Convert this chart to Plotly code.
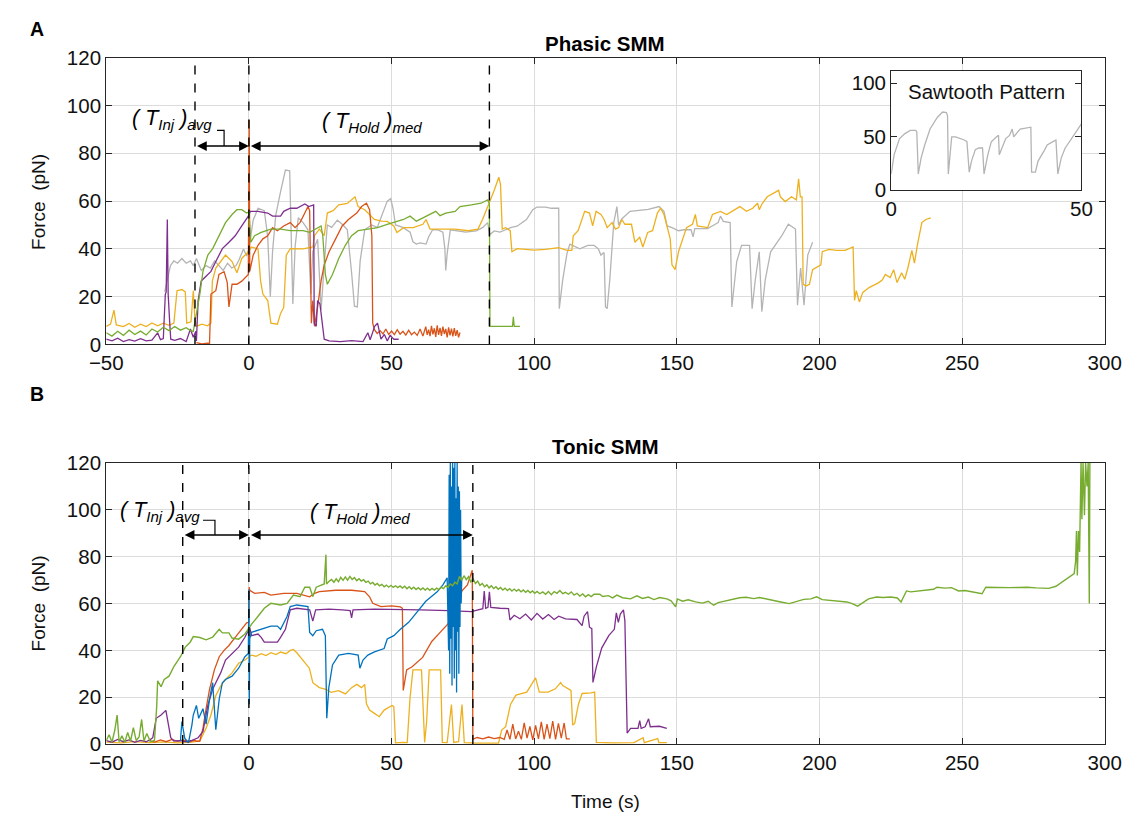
import plotly.graph_objects as go

# ---------------- DATA (time s, force pN) ----------------
top_gray = [(-29.5, 22), (-28.5, 27), (-27.5, 33), (-26.3, 35), (-25, 34), (-23.5, 36), (-22, 34), (-20.5, 35),
            (-19.5, 33), (-18.4, 36), (-17.5, 33), (-16.7, 31), (-15, 33), (-13.5, 32), (-12, 35), (-10.5, 33),
            (-9, 31), (-7.5, 34), (-6, 32), (-4.5, 33), (-3.6, 35), (-1.9, 40), (-0.8, 37), (0, 40), (1.5, 52),
            (3.2, 57), (5.4, 56), (6.6, 45), (7.5, 20), (8.3, 39), (9.4, 54), (11.1, 64), (12.8, 73), (14.3, 72.7),
            (14.9, 48), (15.4, 17), (16.2, 41), (17.3, 53), (19, 51), (20.7, 48), (21.7, 21), (22.4, 39), (24.1, 44),
            (25.3, 14.5), (26.5, 35), (27.5, 50), (29, 49), (31, 52), (33, 50), (34.5, 48), (36, 30), (37, 16),
            (38, 15.7), (39, 35), (40.6, 48), (43, 50), (45, 49), (47, 55), (48.5, 60), (49.7, 61), (50.5, 57),
            (51.4, 50), (54, 49), (56.5, 47), (57.5, 43), (58.7, 42), (60, 42.5), (62.1, 42), (63, 45), (64.4, 48),
            (66, 48), (68, 47), (68.7, 40), (69, 31), (69.5, 38), (70.6, 48), (73, 47.5), (76, 47), (79.7, 47.5),
            (82, 49), (83.7, 51), (84.5, 46), (86, 47.5), (88, 47), (90, 48), (92, 49), (94, 49.5), (96, 51),
            (97.3, 52.3), (99.5, 56.4), (101, 57.5), (104, 57.5), (106, 57), (108.6, 57), (108.8, 15), (110, 27),
            (111.5, 38), (112.5, 42), (114.3, 40.8), (116, 40), (118.8, 41.5), (121, 41.5), (122.5, 40),
            (123.4, 37.4), (124.5, 38.5), (125, 15.7), (125.6, 15), (126.5, 27), (127.9, 51), (129, 57.7),
            (129.6, 50), (130.7, 52.5), (133.6, 55.7), (137, 56), (140, 56.5), (143.8, 57.7), (145.5, 55.7),
            (146.6, 49.6), (148.3, 48.9), (150.6, 47.6), (152.5, 48), (155, 48), (155.7, 45), (156.3, 48.5),
            (160.8, 48.5), (163, 50), (164.5, 51), (165.3, 53.7), (166.3, 51.5), (168.7, 51), (169.3, 15.7),
            (171, 34.7), (172.7, 41.5), (175.5, 41.5), (176.4, 15), (177.5, 27), (178.9, 38.8), (179.8, 13.7),
            (181, 27), (182.9, 38.8), (185.1, 42.8), (186.8, 45.5), (189.1, 50.3), (190.8, 48.9), (191.6, 48.3),
            (192.3, 16.4), (193.4, 32), (194.6, 16.4), (195.9, 37.4), (197.6, 42.8)]

top_yellow = [(-50, 7.6), (-48.5, 8.5), (-47.3, 14.4), (-46.5, 8.2), (-44, 7.5), (-42, 8.8), (-40, 7.2), (-38, 8.5),
              (-36, 7.5), (-34, 9), (-32, 7.8), (-30, 8.9), (-28, 8), (-26.8, 8.5), (-26.3, 9), (-25.2, 22.5),
              (-23.5, 23), (-22.3, 22), (-21.8, 8.9), (-20.3, 9.5), (-19.5, 22.5), (-19, 12), (-18.4, 7.6),
              (-16.5, 8.5), (-14.5, 7.8), (-13.3, 9), (-12.8, 26.6), (-11.6, 32), (-9.8, 35), (-8.2, 37.4),
              (-5.9, 34.7), (-4.2, 30), (-2.5, 36), (-0.2, 38.8), (0.9, 40.8), (3.2, 40), (4.1, 26.6), (4.9, 21.1),
              (6.6, 18.4), (7.7, 8.9), (10, 8.5), (11.1, 13), (12.2, 15.5), (13.1, 37.4), (14.5, 40.1), (19, 40),
              (22.4, 40.8), (23, 45.5), (24.7, 48.3), (26.4, 45.5), (27.5, 55), (29.5, 56), (31.5, 58.4),
              (34.5, 59), (37.2, 61.8), (38.3, 57.7), (40.6, 56.4), (44, 52.3), (46.5, 51.6), (48.5, 51.5),
              (50.8, 49.6), (51.9, 46.9), (54.2, 48.9), (57.6, 48.9), (61, 50.3), (62.1, 52.3), (63.5, 48.3),
              (65.5, 48.3), (72.3, 48.3), (76.9, 47.6), (80.3, 48.3), (81.9, 52.3), (83.1, 55.7), (84.2, 59.1),
              (86, 64.5), (87.6, 70), (88.2, 67), (88.8, 48.3), (90, 48.9), (91.6, 47.6), (92.2, 38.8), (94, 40.1),
              (100, 39.5), (104, 39.8), (107.5, 40.1), (108.6, 40.5), (111.5, 39.4), (113.2, 39.4), (113.7, 45.5),
              (115.4, 47.6), (117.7, 55.7), (119.4, 55), (120.5, 49.6), (121.7, 55.7), (123.4, 54.4),
              (124.5, 52.3), (125.6, 48.9), (127.3, 51), (128.5, 48.3), (129.6, 48.9), (130.7, 52.3),
              (131.8, 50.3), (134.1, 50.3), (135.3, 42.8), (137, 44.9), (138.1, 40.8), (139.8, 46.9),
              (141.5, 47.6), (143.2, 55), (144.3, 57), (145.5, 54.4), (146.6, 49.6), (147.7, 44.2), (148.3, 33.3),
              (149.4, 31.3), (150.6, 38.8), (152.3, 45.5), (153.4, 48.9), (155.5, 50.3), (156.5, 54.4),
              (157.2, 49.6), (160.8, 48.9), (162.5, 54.4), (165.3, 55.7), (167.5, 54.4), (171, 57), (172.1, 57.7),
              (174.4, 55.7), (176.6, 57), (178.3, 59.1), (178.9, 56.4), (180, 59.1), (181.7, 61.8), (185.7, 64.5),
              (186.3, 61.8), (188, 59.8), (190.2, 61.8), (191.9, 60.5), (192.7, 69.3), (193.3, 61.8),
              (193.9, 61.8), (194.3, 25.2), (195.3, 24.5), (196.5, 25.2), (197.6, 31.3), (200.5, 33.3),
              (201, 38.8), (203.3, 39.8), (206.1, 39.4), (209, 39.4), (211.8, 40.8), (212.3, 18.4), (212.9, 22.5),
              (214, 17.8), (215.2, 21.8), (217.4, 23.8), (220.8, 25.9), (222, 27), (223.1, 29.3), (224.8, 28),
              (226, 31.3), (227.2, 25.9), (228.8, 30), (229.9, 27.3), (231, 32), (232.4, 39.4), (233.3, 34),
              (234.4, 42.1), (235.9, 51), (237.3, 52.3), (239, 53)]

top_green = [(-50, 4.9), (-48, 3.5), (-46, 5.5), (-44, 3.8), (-42, 6), (-40, 4.2), (-38, 5.6), (-36, 4), (-34, 6.5),
             (-32, 5.2), (-30, 7.2), (-28, 5.8), (-26, 7.5), (-24, 6), (-22, 7), (-20.5, 5.8), (-19.5, 5.5),
             (-18.4, 13), (-17.2, 21.1), (-16.1, 30.6), (-14.4, 37.4), (-12.7, 40.1), (-10.4, 45.5), (-8.2, 51),
             (-5.9, 54.4), (-4.2, 56.4), (-2.5, 56.4), (-0.8, 55), (0, 55.5), (0.2, 51), (0.7, 42.8), (2, 45.5),
             (4.3, 46.9), (7.7, 48.3), (11.1, 48.3), (14.5, 47.6), (19, 47.6), (21.3, 46.9), (24.1, 48.9),
             (25.3, 49.6), (25.9, 45.5), (26.8, 29.3), (27.5, 25.2), (29.3, 29.3), (31.5, 36), (33.8, 41.5),
             (36, 45.5), (38.3, 47.6), (41.7, 48.3), (45.1, 48.9), (48.5, 50.3), (51.9, 51.6), (54.2, 52.3),
             (56.5, 53.7), (58.7, 51.6), (61, 53), (63.3, 54.4), (65.5, 55.7), (67, 53.9), (69, 55), (72.3, 55.7),
             (74, 57.7), (78, 58.4), (81.4, 59.1), (83.7, 60.5), (84.3, 59), (84.5, 7.6), (86, 7.6), (90, 7.4),
             (92.4, 7.6), (92.7, 11.6), (93, 7.6), (95, 7.6)]

top_purple = [(-50, 2.2), (-48, 1.5), (-46, 2.6), (-44, 1.2), (-42, 2), (-40, 1.4), (-38, 2.4), (-36, 1.5),
              (-34, 1.8), (-32, 4.9), (-31, 2), (-30, 2.5), (-29.3, 21), (-29, 22), (-28.6, 52.3), (-28.3, 21),
              (-27.8, 10), (-27.4, 2.2), (-26, 1.7), (-24, 2.5), (-22, 1.2), (-20.5, 6.5), (-19.5, 3),
              (-18.6, 5.5), (-18.4, 1.5), (-17.8, 18.4), (-16.7, 26.6), (-15, 28.6), (-13.3, 30.6), (-11.6, 34.7),
              (-9.3, 40.1), (-7, 42.8), (-4.8, 45.5), (-2.5, 49.6), (-0.2, 53.7), (0.5, 55.7), (3.2, 55.7),
              (6.6, 55), (8.3, 53.7), (11.1, 53.7), (12.2, 55.7), (14.5, 57), (16.8, 57), (19.6, 58.8), (21, 57.7),
              (22.7, 58.4), (22.9, 8.9), (23.6, 7.6), (24.1, 18.4), (24.9, 17), (25.6, 8.9), (26.4, 2.2),
              (28.1, 1.5), (32, 1.2), (36, 1.6), (40, 1.2), (41.7, 4.9), (42.5, 2), (43.5, 5.5), (44, 7.5),
              (45.1, 8.9), (46.3, 2.2), (47.5, 4.2), (48.5, 1.5), (49.5, 3.8), (50.8, 2.2), (52.5, 2.2)]

top_orange = [(-18.4, 0.8), (-16.5, 0.3), (-14.5, 0.6), (-13.8, 0.5), (-13.3, 21.1), (-11.6, 22.5), (-10.5, 29.3),
              (-8.7, 30.5), (-7.6, 26), (-7, 15.7), (-5.9, 25.2), (-4.2, 25.2), (-2.5, 26.5), (-1.4, 27.9),
              (-0.2, 29.3), (0.1, 94), (0.3, 30.6), (1.5, 37.4), (3.2, 41.5), (4.9, 44.2), (6.6, 45.5), (8.3, 48.9),
              (10, 47.6), (12.2, 49.6), (14.5, 51), (16.2, 48.9), (17.9, 51), (19.6, 55), (20.7, 57.7), (21.3, 56),
              (21.9, 8.9), (22.4, 18.4), (23, 7.6), (24.1, 15.7), (25.3, 26.6), (26.4, 33.3), (28.1, 38.8),
              (30.4, 44.2), (32.7, 49.6), (34.9, 52.3), (37.8, 55), (39.5, 57.7), (41.2, 59.1), (42.3, 56.4),
              (43.1, 45.5), (43.4, 8.9), (44, 6.2), (45, 4.6), (46, 5.8), (47, 4.4), (48, 6.5), (49, 4.2), (50, 5.6),
              (51, 4.1), (52, 6.2), (53, 4.3), (54, 5.5), (55, 3.9), (56, 6), (57, 4.1), (58, 5.2), (59, 3.8),
              (60, 6.5), (61, 3.5), (62, 7.5), (62.5, 4), (63, 6.2), (63.5, 3.5), (64, 7.8), (64.5, 4.2), (65, 6.8),
              (65.5, 3.2), (66, 8), (66.5, 4), (67, 7), (67.5, 3.6), (68, 7.5), (68.5, 4.4), (69, 6.5), (69.5, 3),
              (70, 7.2), (70.5, 3.8), (71, 6.6), (71.5, 3.4), (72, 6.8), (72.5, 3.6), (73, 6), (73.5, 3), (74, 5)]

inset_gray = [(0, 15), (0.76, 33), (2.18, 48), (3.6, 52.7), (5.0, 55.7), (6.44, 55.7), (6.72, 54.2), (7.1, 15),
              (7.86, 30), (8.8, 42), (10.2, 57), (12.1, 67.8), (13.5, 72.9), (14.5, 72.3), (14.8, 69.3), (15.0, 15),
              (15.9, 49.7), (16.9, 49.7), (19.2, 46.7), (19.9, 45.2), (20.5, 16.6), (21.1, 27), (22.1, 37.7),
              (23.0, 39.2), (24.0, 39.2), (24.4, 15), (25.4, 33), (26.3, 45), (27.7, 49.7), (28.2, 51.2),
              (28.4, 33), (29.4, 42), (30.1, 48), (31.1, 51), (31.8, 57), (32.2, 49.7), (33.9, 57), (36.7, 58.7),
              (36.9, 16.6), (37.9, 16.6), (38.6, 27), (40.1, 36), (41.0, 42), (42.4, 45), (43.3, 46.7),
              (43.8, 15), (44.7, 30), (45.7, 39), (47.2, 46.7), (48.6, 54), (50, 61.7)]

bot_green = [(-50, 1.5), (-49, 4), (-48, 0.8), (-47, 6), (-46.2, 12.4), (-45.5, 1), (-44.5, 3.5), (-43.5, 0.8),
             (-42.5, 5), (-41.5, 1.2), (-40.5, 7), (-39.5, 1.5), (-38.5, 3), (-37.6, 10.5), (-36.8, 1.2),
             (-35.8, 4.5), (-34.5, 1), (-33.1, 1.5), (-32.3, 16.5), (-32, 27), (-30.8, 24.5), (-29.7, 27.6),
             (-28, 29), (-26.3, 33.1), (-24, 37.3), (-22.3, 41.4), (-20.6, 43.5), (-19.5, 45.9), (-17.2, 45.5),
             (-15, 44.5), (-12.7, 45.7), (-10.4, 49), (-9.3, 47.5), (-7, 47.5), (-5.9, 45.3), (-3.6, 44.8),
             (-1.4, 47), (0.9, 51.1), (3.2, 54.6), (5.4, 58), (7.7, 60.1), (11.1, 59.4), (13.4, 60.1), (15.6, 63.6),
             (17.9, 62.9), (19.6, 67), (21.3, 67), (22.4, 63), (23.6, 67), (26.4, 68.4), (27, 80.9), (27.2, 68.4),
             (28.2, 69.6), (29, 70.3), (29.8, 69.1), (30.6, 70.6), (31.4, 69.3), (32.2, 71.2), (33, 69.9),
             (33.8, 71.4), (34.6, 70), (35.4, 71.6), (36.2, 70.3), (37, 71.1), (37.8, 69.8), (38.6, 70.6),
             (39.4, 69.6), (40.2, 70.2), (41, 69.1), (41.8, 69.6), (42.6, 68.4), (43.4, 69), (44.2, 67.9),
             (45, 68.6), (45.8, 67.6), (46.6, 68.2), (47.4, 67.2), (48.2, 67.9), (49, 67), (49.8, 67.8),
             (50.6, 66.9), (51.4, 67.6), (52.2, 66.8), (53, 67.5), (53.8, 66.6), (54.6, 67.4), (55.4, 66.3),
             (56.2, 67.2), (57, 66.2), (57.8, 67), (58.6, 66), (59.4, 66.8), (60.2, 65.9), (61, 66.7),
             (61.8, 65.8), (62.6, 66.6), (63.4, 65.7), (64.2, 66.5), (65, 65.8), (65.8, 66.6), (66.6, 66),
             (67.4, 67), (68.2, 66.4), (69, 67.6), (69.8, 67), (70.6, 68.4), (71.4, 67.6), (72.2, 69.1), (73, 68.4),
             (73.8, 71.6), (74.6, 69.9), (75.4, 71.9), (76.2, 70.2), (77, 71.5), (77.8, 69.3), (78.6, 70.6),
             (79.4, 68.6), (80.2, 69.6), (81, 67.8), (81.8, 68.6), (82.6, 67.2), (83.4, 68), (84.2, 66.7), (85, 67.6),
             (85.8, 66.4), (86.6, 67.2), (87.4, 66.1), (88.2, 66.9), (89, 65.8), (89.8, 66.6), (90.6, 65.6),
             (91.4, 66.4), (92.2, 65.4), (93, 66.2), (93.8, 65.3), (94.6, 66), (95.4, 65), (96.2, 65.8),
             (97, 64.8), (97.8, 65.6), (98.6, 64.6), (99.4, 65.4), (100.2, 64.4), (101, 65.2), (102, 64.2),
             (103, 65), (104, 64), (105, 65.2), (106, 63.8), (107, 65.1), (108, 64.4), (109, 65.6), (110, 64.2),
             (111, 64.8), (112, 64), (113, 65), (114, 63.6), (115, 64.4), (116, 63.2), (117, 64.1),
             (118, 62.9), (119, 63.8), (120, 63), (121, 64), (123, 64), (124, 63), (126, 63.4),
             (127.5, 62.4), (129, 63.6), (131, 62.5), (133.8, 62), (136, 63.3), (138, 62.2), (140, 62.8),
             (142, 61.7), (144, 62.6), (146.5, 62), (148, 61.2), (149.6, 58.6), (150.2, 62), (152, 61),
             (154, 61.6), (156.6, 60.7), (159, 60.2), (161, 61), (162.9, 59.3), (164.5, 60.4), (167, 61.2),
             (169.2, 61.7), (172, 62.5), (174.3, 62.7), (177, 62.1), (179, 62.6), (181.8, 62), (184, 61.4),
             (186, 60.8), (189.4, 60), (192, 60.9), (194.5, 61.8), (197, 62), (199, 62.9), (201, 61.7),
             (203.3, 61.4), (206, 61.2), (209.6, 60.7), (211.5, 60), (213.4, 58.9), (215, 60.2), (217.2, 62),
             (220, 62.8), (222.3, 62.6), (225, 62.8), (227.3, 62.4), (228.6, 60.7), (230.5, 65.4), (232, 65),
             (234.9, 65.4), (237, 65.8), (240, 66.1), (241.2, 67), (244, 66.6), (246.3, 66.8), (248.8, 65.4),
             (251, 65.6), (253.9, 64.8), (257, 64.2), (258.3, 67), (262, 66.8), (266.5, 66.8), (270, 66.9),
             (272.8, 67), (276, 66.7), (280.4, 66.5), (282.9, 67.4), (286.7, 70.8), (289.3, 72.8), (289.8, 78),
             (290.1, 91), (290.4, 72), (290.8, 91), (291.2, 82), (291.7, 120), (292, 96), (292.4, 120),
             (292.9, 97.7), (293.3, 120), (293.8, 110), (294.2, 120), (294.6, 60), (294.8, 120)]

bot_orange = [(-35, 1.5), (-33, 0.8), (-31, 1.8), (-29, 1), (-27, 2), (-25, 1.2), (-23, 1.8), (-21, 0.9), (-19, 1.6),
              (-18.4, 1.2), (-17.2, 1.3), (-16.1, 6.8), (-15, 15.1), (-13.8, 23.4), (-12.1, 31.7), (-10.4, 37.3),
              (-8.7, 40), (-7, 42.1), (-4.8, 45.6), (-2.5, 49), (-0.8, 51.8), (0, 52), (0.1, 67), (0.3, 65.7),
              (2, 64.4), (5.4, 64.8), (7.7, 63.6), (12.2, 64.4), (16.8, 64.4), (21.3, 62.9), (23, 64.4),
              (24.7, 65.1), (30.4, 65.7), (36, 65.7), (40.6, 65.1), (42.3, 62.9), (43.4, 60.1), (46.3, 58.7),
              (50, 59), (53.1, 58.6), (53.8, 58), (54.1, 22.9), (55.3, 31.7), (57.2, 33), (60.9, 37), (64.1, 43.8),
              (67.2, 47.9), (69.7, 51.2), (71, 54.6), (72.9, 60), (74.7, 65.4), (76.6, 68), (78.3, 74.2),
              (78.5, 2), (80, 2.8), (82, 2.2), (84, 3), (86, 2.3), (88, 2.8), (89.5, 2), (90.5, 6), (91.5, 2),
              (92.5, 8.5), (93.5, 2.2), (94.5, 5.5), (95.5, 2), (96.5, 9), (97.5, 2.5), (98.5, 7.5), (99.5, 1.8),
              (100.5, 8), (101.5, 2.2), (102.5, 9.5), (103.5, 2), (104.5, 8.5), (105.5, 2.3), (106.5, 9.8),
              (107.5, 2), (108.5, 8.8), (109.5, 2.5), (110.5, 9), (111.3, 2.2), (112.5, 2.2)]

bot_blue = [(-24, 1.3), (-23.5, 9.6), (-22.5, 2.5), (-21.2, 0.5), (-20, 8), (-19.5, 12.4), (-18.4, 16.5),
            (-17.6, 11), (-16.1, 15.1), (-15, 8.5), (-13.8, 19.3), (-12.7, 26.2), (-11.6, 6.1), (-10.4, 19.3),
            (-9.3, 26.2), (-8.2, 27.6), (-5.9, 29), (-3.6, 32.4), (-1.4, 37.3), (-0.2, 38.7), (0, 66), (0.15, 17),
            (0.3, 45), (0.9, 47.7), (4.3, 49), (7.7, 50.4), (10, 50.4), (11.1, 49), (13.4, 54.6), (14.5, 58.7),
            (16.8, 59.4), (19, 59), (20.7, 58.7), (21.3, 47.7), (22.4, 46.3), (23.6, 48.4), (25.8, 49),
            (26.8, 46.3), (27.3, 11), (28, 24), (29.3, 33.8), (31.5, 38), (34.9, 38.7), (38.3, 38), (38.9, 32.4),
            (40, 35.9), (41.7, 38), (44, 39.4), (47.4, 40.8), (48.5, 44.9), (50.8, 46.3), (53.1, 49), (56, 52),
            (58, 55), (60, 58), (62, 61), (64, 63), (66, 65), (68, 68), (69.5, 71), (70, 40), (70.2, 115),
            (70.4, 30), (70.6, 120), (70.8, 45), (71, 110), (71.2, 25), (71.4, 120), (71.6, 50), (71.8, 118),
            (72, 28), (72.2, 120), (72.4, 40), (72.6, 105), (72.8, 22), (73, 120), (73.2, 48), (73.4, 110),
            (73.6, 30), (73.8, 108), (74, 50), (74.2, 100), (74.4, 60), (74.6, 70)]

bot_purple = [(-50, 1.5), (-48, 0.8), (-46, 2), (-44, 1), (-42, 1.8), (-40, 0.7), (-38, 1.6), (-36, 1), (-34.5, 2),
              (-33.7, 2.7), (-32.5, 11), (-30.8, 12.4), (-29.1, 14.4), (-28.5, 9.6), (-27.4, 2.7), (-26.3, 1.3),
              (-24, 1.5), (-22, 1), (-20, 1.6), (-17.8, 2.7), (-16.1, 5.4), (-14.4, 16.5), (-12.7, 23.4),
              (-11.6, 26.2), (-9.9, 30.4), (-8.2, 35.9), (-5.9, 38.7), (-3.6, 41.4), (-1.4, 45.6), (0.3, 49.7),
              (0.9, 46.3), (3.2, 47), (4.3, 45.6), (5.4, 43.5), (7.7, 43.5), (10, 43.5), (11.1, 45.6), (12.8, 49),
              (14.5, 57.3), (16.8, 58), (21.3, 57.3), (22.4, 52.5), (23.4, 57.3), (28.1, 57.6), (32.7, 57.3),
              (35.5, 57), (36, 53.9), (36.5, 57.3), (44, 57.6), (53.1, 57.6), (60, 57.3), (70, 57), (78, 56.6),
              (82, 57.8), (82.5, 65.4), (83, 58), (83.8, 58.4), (84.3, 65), (84.8, 58.4), (88, 58), (91, 57.8),
              (91.5, 53), (93, 55), (95, 53.5), (97, 55.5), (99, 53), (101, 55.8), (103, 53.4), (105, 55.3),
              (107, 53.2), (108.6, 54.6), (111, 53.5), (115, 53.2), (116.8, 50.6), (117.5, 54.6), (118.7, 56.6),
              (119.4, 49.9), (120.2, 49.3), (120.6, 26.3), (121.8, 33), (123.7, 41.1), (126.2, 46.4), (128.1, 49),
              (128.8, 56), (129.5, 52), (130.2, 55.5), (131.3, 57.3), (131.8, 52.6), (132.6, 4.7), (133.8, 6.7),
              (136.4, 6.7), (137, 10), (137.5, 6.7), (138.9, 7.4), (140.1, 10.8), (140.7, 7.4), (143.9, 7.6),
              (146.5, 6.7)]

bot_yellow = [(-50, 0.8), (-45, 0.5), (-40, 1), (-35, 0.6), (-30, 0.9), (-25, 0.5), (-20, 0.8), (-17.2, 1.3),
              (-15, 6.8), (-13.3, 12.4), (-11.6, 20.7), (-9.9, 24.8), (-8.2, 27.6), (-5.9, 30.4), (-3.6, 34.5),
              (-1.4, 35.9), (0.9, 38), (2.5, 37.5), (4.3, 38.6), (6, 37.8), (7.7, 39), (9.5, 38.2), (11.1, 39.3),
              (13, 38.6), (14.5, 40), (15.6, 40.4), (16.8, 39), (18.5, 36.6), (20.2, 33.8), (21.2, 32.4),
              (22.4, 26.2), (24.7, 24.1), (27, 23.4), (28.7, 22.1), (31.5, 22.8), (33.8, 21.4), (36, 24.1),
              (37.8, 25.5), (39.5, 24.1), (40.6, 25.5), (41.2, 17.2), (42.3, 14.5), (44, 13.1), (45.7, 11.7),
              (47.4, 14.5), (50.2, 16.5), (50.8, 16), (51.4, 0.5), (54, 0.7), (55.5, 0.6), (56.5, 20),
              (57.5, 31.7), (60.5, 31.7), (61.6, 0.7), (62.3, 9.5), (63.2, 31.7), (67.2, 31.7), (67.8, 0.7),
              (69.5, 0.6), (71, 16.9), (71.8, 0.7), (73.5, 1), (74.7, 16.9), (75.5, 0.6), (80, 0.4), (85, 0.5),
              (87.5, 0.4), (88.6, 6), (90, 7.4), (91.7, 16.9), (93.6, 20.9), (97.4, 22.2), (98.7, 24.9),
              (100.5, 28.3), (101.8, 22.2), (104.9, 22.2), (107.4, 23.6), (109.3, 26.3), (110, 25), (111, 24.3),
              (112.9, 22.9), (113.5, 8.1), (114.2, 8.8), (115.5, 16.9), (116.8, 21.6), (119.9, 21.9),
              (121.2, 22.2), (121.8, 0.7), (127.5, 0.5), (135, 0.6), (138.2, 2.7), (138.6, 0.6), (143.3, 2.3),
              (143.7, 0.6), (146.5, 0.6)]

top_marks = [-18.9, 0, 84.3]
bot_marks = [-23.2, 0, 78.5]
x_ticks = [-50, 0, 50, 100, 150, 200, 250, 300]
y_ticks = [0, 20, 40, 60, 80, 100, 120]

# ---------------- STYLE ----------------
C_BLUE, C_ORANGE, C_YELLOW = '#0072BD', '#D95319', '#EDB120'
C_PURPLE, C_GREEN, C_GRAY = '#7E2F8E', '#77AC30', '#B4B4B4'
FONT = 'Arial, Liberation Sans, sans-serif'
AX = '#262626'
W, H = 1145, 827


def px_x(p):
    return p / W


def px_y(p):
    return (H - p) / H


fig = go.Figure()


def add(series, color, xa, ya, width=1.3):
    t = [p[0] for p in series]
    f = [p[1] for p in series]
    fig.add_trace(go.Scatter(x=t, y=f, mode='lines', xaxis=xa, yaxis=ya,
                             line=dict(color=color, width=width), hoverinfo='skip', showlegend=False))


add(top_gray, C_GRAY, 'x', 'y')
add(top_yellow, C_YELLOW, 'x', 'y')
add(top_orange, C_ORANGE, 'x', 'y')
add(top_purple, C_PURPLE, 'x', 'y')
add(top_green, C_GREEN, 'x', 'y')
add(bot_yellow, C_YELLOW, 'x2', 'y2')
add(bot_orange, C_ORANGE, 'x2', 'y2')
add(bot_purple, C_PURPLE, 'x2', 'y2')
add(bot_blue, C_BLUE, 'x2', 'y2')
add(bot_green, C_GREEN, 'x2', 'y2', width=1.4)
add(inset_gray, C_GRAY, 'x3', 'y3')

axis_common = dict(ticks='inside', ticklen=6, tickwidth=1, tickcolor=AX, showline=True, linecolor=AX,
                   linewidth=1.2, mirror='ticks', zeroline=False,
                   tickfont=dict(family=FONT, size=20.5, color='#111'),
                   gridcolor='#dcdcdc', gridwidth=1, showgrid=True)

dom_x = [px_x(92), px_x(1121)]
fig.update_layout(
    width=W, height=H, margin=dict(l=0, r=0, t=0, b=0),
    paper_bgcolor='white', plot_bgcolor='white',
    xaxis=dict(domain=dom_x, range=[-50, 300], tickvals=x_ticks, anchor='y', **axis_common),
    yaxis=dict(domain=[px_y(342), px_y(47)], range=[0, 120], tickvals=y_ticks, anchor='x', **axis_common),
    xaxis2=dict(domain=dom_x, range=[-50, 300], tickvals=x_ticks, anchor='y2', **axis_common),
    yaxis2=dict(domain=[px_y(753), px_y(464)], range=[0, 120], tickvals=y_ticks, anchor='x2', **axis_common),
    xaxis3=dict(domain=[px_x(901), px_x(1097)], range=[0, 50], tickvals=[0, 50], anchor='y3',
                **{**axis_common, 'showgrid': False}),
    yaxis3=dict(domain=[px_y(183), px_y(61)], range=[0, 111], tickvals=[0, 50, 100], anchor='x3',
                **{**axis_common, 'showgrid': False}),
)

shapes = []
for xv in top_marks:
    shapes.append(dict(type='line', xref='x', yref='y', x0=xv, x1=xv, y0=0, y1=120, layer='above',
                       line=dict(color='black', width=1.4, dash='dash')))
for xv in bot_marks:
    shapes.append(dict(type='line', xref='x2', yref='y2', x0=xv, x1=xv, y0=0, y1=120, layer='above',
                       line=dict(color='black', width=1.4, dash='dash')))
shapes.append(dict(type='path', xref='x', yref='y', path='M -11.2,89.6 L -8.7,89.6 L -8.7,83', layer='above',
                   line=dict(color='black', width=1.2)))
shapes.append(dict(type='path', xref='x2', yref='y2', path='M -16.1,95.6 L -11.9,95.6 L -11.9,89.3',
                   layer='above', line=dict(color='black', width=1.2)))
fig.update_layout(shapes=shapes)

ann = []


def arrow(xa, ya, x0, x1, yv):
    ann.append(dict(xref=xa, yref=ya, axref=xa, ayref=ya, x=x1, y=yv, ax=x0, ay=yv, text=' ', showarrow=True,
                    arrowhead=2, startarrowhead=2, arrowside='end+start', arrowsize=1.3, arrowwidth=1.5,
                    arrowcolor='black', standoff=0, startstandoff=0, font=dict(size=4)))


arrow('x', 'y', top_marks[0], top_marks[1], 83)
arrow('x', 'y', top_marks[1], top_marks[2], 83)
arrow('x2', 'y2', bot_marks[0], bot_marks[1], 89.3)
arrow('x2', 'y2', bot_marks[1], bot_marks[2], 89.3)

lab_font = dict(family=FONT, size=21.5, color='black')
ann += [
    dict(xref='x', yref='y', x=-12.3, y=94, text='<i>( T<sub>Inj</sub> )<sub>avg</sub></i>', showarrow=False,
         xanchor='right', yanchor='middle', font=lab_font),
    dict(xref='x', yref='y', x=43, y=93, text='<i>( T<sub>Hold</sub> )<sub>med</sub></i>', showarrow=False,
         xanchor='center', yanchor='middle', font=lab_font),
    dict(xref='x2', yref='y2', x=-16.3, y=99.5, text='<i>( T<sub>Inj</sub> )<sub>avg</sub></i>', showarrow=False,
         xanchor='right', yanchor='middle', font=lab_font),
    dict(xref='x2', yref='y2', x=39, y=98.5, text='<i>( T<sub>Hold</sub> )<sub>med</sub></i>', showarrow=False,
         xanchor='center', yanchor='middle', font=lab_font),
    dict(xref='paper', yref='paper', x=px_x(606), y=px_y(32), text='<b>Phasic SMM</b>', showarrow=False,
         xanchor='center', yanchor='middle', font=dict(family=FONT, size=20.5, color='black')),
    dict(xref='paper', yref='paper', x=px_x(606), y=px_y(447), text='<b>Tonic SMM</b>', showarrow=False,
         xanchor='center', yanchor='middle', font=dict(family=FONT, size=20.5, color='black')),
    dict(xref='paper', yref='paper', x=px_x(11), y=px_y(18), text='<b>A</b>', showarrow=False,
         xanchor='left', yanchor='middle', font=dict(family=FONT, size=19.5, color='black')),
    dict(xref='paper', yref='paper', x=px_x(11), y=px_y(393), text='<b>B</b>', showarrow=False,
         xanchor='left', yanchor='middle', font=dict(family=FONT, size=19.5, color='black')),
    dict(xref='paper', yref='paper', x=px_x(22), y=px_y(195), text='Force  (pN)', showarrow=False, textangle=-90,
         xanchor='center', yanchor='middle', font=dict(family=FONT, size=19, color='#111')),
    dict(xref='paper', yref='paper', x=px_x(22), y=px_y(608), text='Force  (pN)', showarrow=False, textangle=-90,
         xanchor='center', yanchor='middle', font=dict(family=FONT, size=19, color='#111')),
    dict(xref='paper', yref='paper', x=px_x(606), y=px_y(812), text='Time (s)', showarrow=False,
         xanchor='center', yanchor='middle', font=dict(family=FONT, size=19, color='#111')),
    dict(xref='paper', yref='paper', x=px_x(999), y=px_y(82), text='Sawtooth Pattern', showarrow=False,
         xanchor='center', yanchor='middle', font=dict(family=FONT, size=20.5, color='#111')),
]
fig.update_layout(annotations=ann)

fig.write_html('out.html')
